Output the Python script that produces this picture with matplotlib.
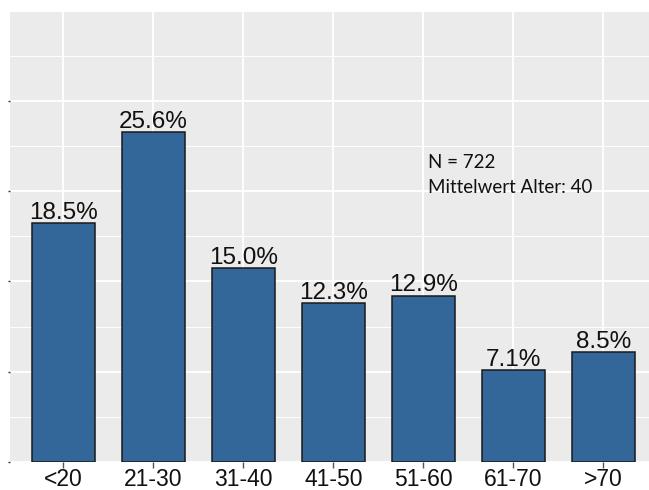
import matplotlib
matplotlib.use("Agg")
import matplotlib.pyplot as plt
from matplotlib.ticker import MultipleLocator, NullFormatter

categories = ["<20", "21-30", "31-40", "41-50", "51-60", "61-70", ">70"]
percentages = [18.5, 25.6, 15.0, 12.3, 12.9, 7.1, 8.5]
value_labels = ["18.5%", "25.6%", "15.0%", "12.3%", "12.9%", "7.1%", "8.5%"]
note_lines = ["N = 722", "Mittelwert Alter: 40"]

W, H = 649, 490
fig = plt.figure(figsize=(W / 100, H / 100), dpi=100)
left_px, bottom_px, top_px = 9.5, 462, 11.7
ax = fig.add_axes([left_px / W, (H - bottom_px) / H, 648 / W, (bottom_px - top_px) / H])

ax.set_facecolor("#EBEBEB")
x = list(range(len(categories)))
ax.bar(x, percentages, width=0.69, color="#336699", edgecolor="#1a1a1a",
       linewidth=1.1, zorder=3)

for xi, v, lab in zip(x, percentages, value_labels):
    ax.annotate(lab, (xi, v), xytext=(0, 3), textcoords="offset points",
                ha="center", va="baseline", fontsize=17.5,
                family="Liberation Sans", color="#111111", zorder=4)

ax.set_xlim(-0.6, 6.6)
ax.set_ylim(0, 34.9)
ax.set_xticks(x)
ax.set_xticklabels(categories, family="Liberation Sans", fontsize=16.5, color="#111111")
ax.yaxis.set_major_locator(MultipleLocator(7))
ax.yaxis.set_minor_locator(MultipleLocator(3.5))
ax.yaxis.set_major_formatter(NullFormatter())
ax.tick_params(axis="y", which="major", length=1.5, width=1, color="#333333")
ax.tick_params(axis="y", which="minor", length=0)
ax.tick_params(axis="x", length=4, width=1, color="#555555", pad=0.5)

ax.grid(which="major", axis="both", color="white", linewidth=1.3, zorder=0)
ax.grid(which="minor", axis="y", color="white", linewidth=0.7, zorder=0)
ax.set_axisbelow(True)
for s in ax.spines.values():
    s.set_visible(False)

fig.text(428 / W, 1 - 168 / H, note_lines[0], fontsize=13.5, family="Lato",
         color="#111111", va="baseline", ha="left")
fig.text(428 / W, 1 - 193 / H, note_lines[1], fontsize=13.5, family="Lato",
         color="#111111", va="baseline", ha="left")

fig.savefig("out.png", dpi=100)
